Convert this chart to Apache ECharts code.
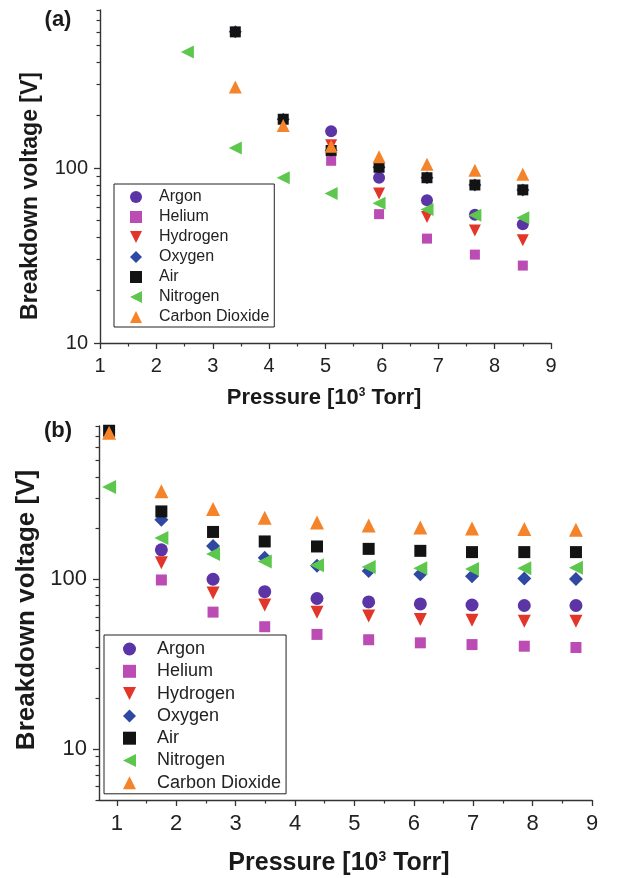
<!DOCTYPE html>
<html>
<head>
<meta charset="utf-8">
<script src="https://cdn.jsdelivr.net/npm/echarts@6/dist/echarts.min.js"></script>
<style>
  html, body { margin: 0; padding: 0; background: #fff; }
  #chart { width: 617px; height: 878px; }
</style>
</head>
<body>
<div id="chart"></div>
<script>
// panel (a)
const pressureA = [2.55, 3.4, 4.25, 5.1, 5.95, 6.8, 7.65, 8.5];
const argonA    = [null, null, null, 162, 88, 65.5, 54, 47.7];
const heliumA   = [null, null, null, 110, 54.5, 39.5, 32, 27.7];
const hydrogenA = [null, null, null, 135, 71.5, 52.5, 44, 38.7];
const oxygenA   = [null, 600, 190, 126, 101, 88, 80, 75];
const airA      = [null, 600, 190, 126, 101, 88, 80, 75];
const nitrogenA = [460, 130, 88, 71.5, 63, 58, 53.7, 52];
const co2A      = [null, 290, 175, 133, 116, 105, 97, 92];

// panel (b)
const pressureB = [0.87, 1.75, 2.62, 3.49, 4.37, 5.24, 6.11, 6.98, 7.86, 8.73];
const argonB    = [null, 149, 100, 84.5, 77, 73.5, 71.5, 70.5, 70, 70];
const heliumB   = [null, 99, 64, 52.5, 47.3, 44, 42.2, 41.2, 40.3, 39.6];
const hydrogenB = [null, 125, 83, 70.5, 64, 60.7, 58, 57.4, 56.6, 56.6];
const oxygenB   = [null, 224, 157, 134, 120, 112, 107, 104, 101, 100.4];
const airB      = [750, 251, 190, 167, 156, 151, 147, 144.5, 144.5, 144.5];
const nitrogenB = [350, 175, 141, 127, 121, 118, 116, 115, 116, 117];
const co2B      = [730, 330, 259, 230, 216, 207, 202, 199, 198, 196];

const gasNames = ['Argon', 'Helium', 'Hydrogen', 'Oxygen', 'Air', 'Nitrogen', 'Carbon Dioxide'];

const xTicks = [1, 2, 3, 4, 5, 6, 7, 8, 9];
const xMinorTicks = [1.5, 2.5, 3.5, 4.5, 5.5, 6.5, 7.5, 8.5];
const yTicks = [10, 100];
const yMinorTicksA = [20, 30, 40, 50, 60, 70, 80, 90, 200, 300, 400, 500, 600, 700, 800];
const yMinorTicksB = [5, 6, 7, 8, 9, 20, 30, 40, 50, 60, 70, 80, 90, 200, 300, 400, 500, 600, 700, 800];

const FONT = 'Liberation Sans, Arial, Helvetica, sans-serif';
const AXIS_COLOR = '#333';

// legend icons: rotated triangles are not carried over to the legend, so give them as paths
const styles = [
  { symbol: 'circle',   color: '#5b35a6', rot: 0,   k: 1 },
  { symbol: 'rect',     color: '#bb4cb3', rot: 0,   k: 0.85, icon: 'path://M0,0L10,0L10,10L0,10Z', iconK: 0.8 },
  { symbol: 'triangle', color: '#e2362a', rot: 180, k: 1,    icon: 'path://M0,0L12,0L6,12Z' },
  { symbol: 'diamond',  color: '#2f48a3', rot: 0,   k: 1.1 },
  { symbol: 'rect',     color: '#131313', rot: 0,   k: 0.95, icon: 'path://M0,0L10,0L10,10L0,10Z', iconK: 0.85 },
  { symbol: 'triangle', color: '#5cc74c', rot: 90,  k: 1.05, icon: 'path://M12,0L12,12L0,6Z' },
  { symbol: 'triangle', color: '#f5832a', rot: 0,   k: 1.05 }
];

function pairs(xs, ys) {
  return xs.map((x, i) => [x, ys[i]]).filter(d => d[1] != null);
}

function makeSeries(xs, sets, xi, yi, size) {
  return sets.map((ys, i) => ({
    name: gasNames[i],
    type: 'scatter',
    xAxisIndex: xi,
    yAxisIndex: yi,
    symbol: styles[i].symbol,
    symbolRotate: styles[i].rot,
    symbolKeepAspect: true,
    symbolSize: Math.round(size * styles[i].k),
    itemStyle: { color: styles[i].color, opacity: 1 },
    clip: false,
    emphasis: { disabled: true },
    data: pairs(xs, ys)
  }));
}

function xAxes(grid, min, fontSize) {
  return [
    {
      type: 'value', gridIndex: grid, min: min, max: 9, position: 'bottom',
      axisLine: { onZero: false, lineStyle: { color: AXIS_COLOR, width: 1.4 } },
      axisTick: { customValues: xTicks, length: 6, lineStyle: { color: AXIS_COLOR, width: 1.3 } },
      axisLabel: { customValues: xTicks, fontSize: fontSize, fontFamily: FONT, color: '#222', margin: 13 },
      splitLine: { show: false }
    },
    {
      type: 'value', gridIndex: grid, min: min, max: 9, position: 'bottom',
      axisLine: { show: false },
      axisTick: { customValues: xMinorTicks, length: 3.5, lineStyle: { color: AXIS_COLOR, width: 1.2 } },
      axisLabel: { show: false },
      splitLine: { show: false }
    }
  ];
}

function yAxes(grid, min, minors, fontSize) {
  return [
    {
      type: 'log', gridIndex: grid, min: min, max: 800, position: 'left',
      axisLine: { onZero: false, lineStyle: { color: AXIS_COLOR, width: 1.4 } },
      axisTick: { customValues: yTicks, length: 6, lineStyle: { color: AXIS_COLOR, width: 1.3 } },
      axisLabel: { customValues: yTicks, fontSize: fontSize, fontFamily: FONT, color: '#222', margin: 12 },
      splitLine: { show: false }
    },
    {
      type: 'log', gridIndex: grid, min: min, max: 800, position: 'left',
      axisLine: { show: false },
      axisTick: { customValues: minors, length: 3.5, lineStyle: { color: AXIS_COLOR, width: 1.2 } },
      axisLabel: { show: false },
      splitLine: { show: false }
    }
  ];
}

function legend(left, top, size, icon, textPad, gap) {
  return {
    data: gasNames.map((name, i) => styles[i].icon ? { name: name, icon: styles[i].icon } : name),
    orient: 'vertical',
    left: left,
    top: top,
    itemWidth: icon,
    itemHeight: icon,
    itemGap: gap,
    padding: [5, 5, 2, 5 + textPad[0]],
    borderColor: '#222',
    borderWidth: 1,
    backgroundColor: '#fff',
    selectedMode: false,
    textStyle: {
      fontSize: size, lineHeight: size, fontFamily: FONT, color: '#222',
      padding: [0, 0, 0, textPad[1]]
    }
  };
}

function title(x, y, size, text, rotate) {
  return {
    type: 'text', x: x, y: y, rotation: rotate ? Math.PI / 2 : 0,
    style: {
      text: text, fill: '#1a1a1a', font: 'bold ' + size + 'px ' + FONT,
      textAlign: 'center', textVerticalAlign: 'middle'
    }
  };
}

function pressureTitle(x, y, size) {
  return {
    type: 'text', x: x, y: y,
    style: {
      text: '{n|Pressure [10}{s|3}{n| Torr]}',
      textAlign: 'center', textVerticalAlign: 'middle',
      rich: {
        n: { fontSize: size, fontWeight: 'bold', fontFamily: FONT, fill: '#1a1a1a', color: '#1a1a1a', lineHeight: size },
        s: { fontSize: Math.round(size * 0.55), fontWeight: 'bold', fontFamily: FONT, fill: '#1a1a1a', color: '#1a1a1a', verticalAlign: 'top', lineHeight: size, padding: [0, 0, size * 0.45, 0] }
      }
    }
  };
}

const chart = echarts.init(document.getElementById('chart'), null, { renderer: 'canvas' });

chart.setOption({
  animation: false,
  backgroundColor: '#fff',
  grid: [
    { left: 100, top: 10, width: 451, height: 333 },
    { left: 99, top: 426, width: 493, height: 374 }
  ],
  xAxis: [...xAxes(0, 1, 20), ...xAxes(1, 0.7, 22)],
  yAxis: [...yAxes(0, 10, yMinorTicksA, 20), ...yAxes(1, 5, yMinorTicksB, 22)],
  legend: [
    legend(114, 184, 16, 12, [11, 12], 4),
    legend(104, 635, 18, 13, [14, 16], 4.3)
  ],
  series: [
    ...makeSeries(pressureA, [argonA, heliumA, hydrogenA, oxygenA, airA, nitrogenA, co2A], 0, 0, 12),
    ...makeSeries(pressureB, [argonB, heliumB, hydrogenB, oxygenB, airB, nitrogenB, co2B], 2, 2, 13)
  ],
  graphic: [
    title(58, 20, 22, '(a)'),
    title(58, 431, 22, '(b)'),
    title(31, 196, 23, 'Breakdown voltage [V]', true),
    title(27, 610, 26, 'Breakdown voltage [V]', true),
    pressureTitle(324, 398, 22),
    pressureTitle(339, 863, 25)
  ]
});
</script>
</body>
</html>
